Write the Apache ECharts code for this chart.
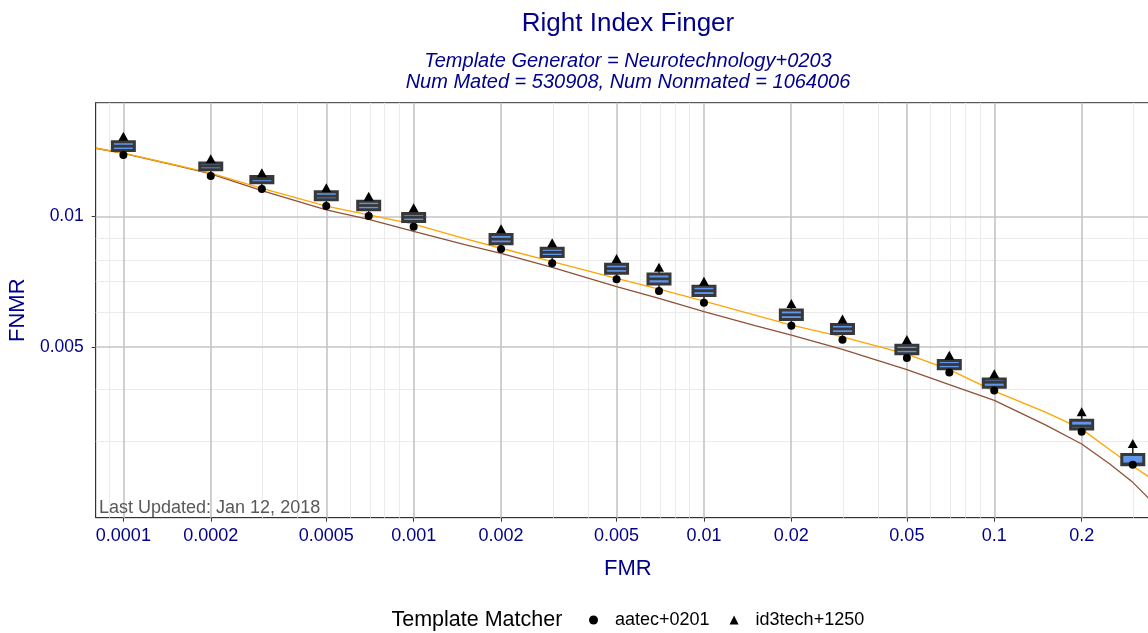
<!DOCTYPE html>
<html>
<head>
<meta charset="utf-8">
<script src="https://cdn.jsdelivr.net/npm/echarts@6/dist/echarts.min.js"></script>
<style>
  html, body { margin: 0; padding: 0; background: #fff; }
  #detChart { width: 1148px; height: 633px; }
</style>
</head>
<body>
<div id="detChart"></div>
<script>
// operating points (FMR) where the matchers are compared
const fmrPoints = [0.0001, 0.0002, 0.0003, 0.0005, 0.0007, 0.001, 0.002, 0.003, 0.005, 0.007,
                   0.01, 0.02, 0.03, 0.05, 0.07, 0.1, 0.2, 0.3];
const aatecFnmr = [0.01388, 0.01241, 0.01158, 0.01058, 0.01003, 0.00948, 0.00842, 0.00780, 0.00716, 0.00673,
                   0.00632, 0.00559, 0.00519, 0.00471, 0.00436, 0.00396, 0.00318, 0.00267];
const id3techFnmr = [0.01535, 0.01360, 0.01263, 0.01166, 0.01115, 0.01048, 0.00937, 0.00870, 0.00800, 0.00764,
                     0.00709, 0.00630, 0.00580, 0.00520, 0.00478, 0.00433, 0.00354, 0.00299];
// box of all matchers at each point
const boxUpper = [0.01489, 0.01331, 0.01238, 0.01141, 0.01085, 0.01017, 0.00909, 0.00845, 0.00776, 0.00737,
                  0.00690, 0.00608, 0.00563, 0.00504, 0.00465, 0.00421, 0.00338, 0.00282];
const boxMedian = [0.01455, 0.01309, 0.01223, 0.01115, 0.01061, 0.00997, 0.00887, 0.00827, 0.00758, 0.00718,
                   0.00674, 0.00593, 0.00550, 0.00493, 0.00455, 0.00414, 0.00328, 0.00268];
const boxLower = [0.01422, 0.01283, 0.01197, 0.01094, 0.01037, 0.00974, 0.00865, 0.00809, 0.00740, 0.00699,
                  0.00657, 0.00578, 0.00537, 0.00482, 0.00445, 0.00403, 0.00323, 0.00267];

// DET curves
const curveFmr = [0.0000804, 0.0001, 0.00015, 0.0002, 0.0003, 0.0005, 0.0007, 0.001, 0.0015, 0.002,
                  0.003, 0.005, 0.007, 0.01, 0.015, 0.02, 0.03, 0.05, 0.07, 0.1,
                  0.15, 0.2, 0.25, 0.3, 0.35, 0.372];
const orangeFnmr = [0.01439, 0.01403, 0.01318, 0.01261, 0.01163, 0.01058, 0.01009, 0.00961, 0.00889, 0.00845,
                    0.00787, 0.00720, 0.00680, 0.00638, 0.00592, 0.00561, 0.00527, 0.00481, 0.00443, 0.00395,
                    0.00353, 0.00323, 0.00289, 0.00265, 0.00247, 0.00240];
const brownFnmr = [0.01439, 0.01400, 0.01316, 0.01255, 0.01148, 0.01036, 0.00985, 0.00924, 0.00862, 0.00822,
                   0.00763, 0.00689, 0.00647, 0.00603, 0.00560, 0.00532, 0.00493, 0.00443, 0.00409, 0.00376,
                   0.00330, 0.00298, 0.00268, 0.00243, 0.00219, 0.00212];

// axes
const xMajor = [0.0001, 0.0002, 0.0005, 0.001, 0.002, 0.005, 0.01, 0.02, 0.05, 0.1, 0.2];
const xLabels = ['0.0001', '0.0002', '0.0005', '0.001', '0.002', '0.005', '0.01', '0.02', '0.05', '0.1', '0.2'];
const xMinor = [0.00009, 0.0003, 0.0004, 0.0006, 0.0007, 0.0008, 0.0009, 0.003, 0.004, 0.006, 0.007, 0.008, 0.009,
                0.03, 0.04, 0.06, 0.07, 0.08, 0.09, 0.3];
const yMajor = [0.005, 0.01];
const yLabels = ['0.005', '0.01'];
const yMinor = [0.003, 0.004, 0.006, 0.007, 0.008, 0.009];
const xRange = [0.0000803, 0.3723];
const yRange = [0.002013, 0.01834];

const lg = Math.log10;
const navy = '#00008B';

function labelFor(v, majors, labels) {
    for (let i = 0; i < majors.length; i++) {
        if (Math.abs(lg(majors[i]) - v) < 1e-6) return labels[i];
    }
    return '';
}

const minorStyle = {color: '#ebebeb', width: 1, type: 'solid'};
const majorStyle = {color: '#c4c4c4', width: 1.6, type: 'solid'};
const gridLines = [];
xMinor.forEach(v => gridLines.push({xAxis: lg(v), lineStyle: minorStyle}));
yMinor.forEach(v => gridLines.push({yAxis: lg(v), lineStyle: minorStyle}));
xMajor.forEach(v => gridLines.push({xAxis: lg(v), lineStyle: majorStyle}));
yMajor.forEach(v => gridLines.push({yAxis: lg(v), lineStyle: majorStyle}));

const boxData = fmrPoints.map((f, i) => [lg(f), lg(boxLower[i]), lg(boxMedian[i]), lg(boxUpper[i]),
                                         lg(aatecFnmr[i]), lg(id3techFnmr[i])]);

const myChart = echarts.init(document.getElementById('detChart'));
const option = {
    animation: false,
    textStyle: {fontFamily: 'Liberation Sans, Arial, sans-serif'},
    title: [
        {
            text: 'Right Index Finger', left: 628, top: 10.6, textAlign: 'center', padding: 0,
            textStyle: {fontSize: 26, fontWeight: 'normal', color: navy, lineHeight: 26}
        },
        {
            text: 'Template Generator = Neurotechnology+0203\nNum Mated = 530908, Num Nonmated = 1064006',
            left: 628, top: 50.5, textAlign: 'center', padding: 0,
            textStyle: {fontSize: 20, fontWeight: 'normal', fontStyle: 'italic', color: navy, lineHeight: 21}
        },
        {
            text: 'Last Updated: Jan 12, 2018', left: 99, top: 499.5, padding: 0,
            textStyle: {fontSize: 18, fontWeight: 'normal', color: '#595959', lineHeight: 18}
        },
        {
            text: 'Template Matcher', left: 391.5, top: 609.5, padding: 0,
            textStyle: {fontSize: 21.5, fontWeight: 'normal', color: '#000', lineHeight: 21}
        }
    ],
    legend: {
        left: 589, top: 610, padding: 0,
        itemWidth: 9, itemHeight: 9, itemGap: 20,
        textStyle: {fontSize: 18, color: '#000', lineHeight: 20, padding: [0, 0, 0, 12]},
        data: [
            {name: 'aatec+0201', icon: 'circle', itemStyle: {color: '#000', opacity: 1}},
            {name: 'id3tech+1250', icon: 'triangle', itemStyle: {color: '#000', opacity: 1}}
        ]
    },
    grid: {
        left: 95.7, top: 102.7, right: -12, bottom: 115.3,
        containLabel: false, outerBoundsMode: 'none',
        show: true, borderColor: '#333', borderWidth: 1
    },
    xAxis: {
        type: 'value',
        min: lg(xRange[0]), max: lg(xRange[1]),
        name: 'FMR', nameLocation: 'middle', nameGap: 40,
        nameTextStyle: {fontSize: 22, color: navy},
        axisLine: {show: true, lineStyle: {color: '#333', width: 1}},
        axisTick: {show: true, length: 4, inside: false, customValues: xMajor.map(lg), lineStyle: {color: '#333'}},
        axisLabel: {
            customValues: xMajor.map(lg), margin: 9, fontSize: 18, color: navy,
            formatter: v => labelFor(v, xMajor, xLabels)
        },
        splitLine: {show: false}
    },
    yAxis: {
        type: 'value',
        min: lg(yRange[0]), max: lg(yRange[1]),
        name: 'FNMR', nameLocation: 'middle', nameGap: 61,
        nameTextStyle: {fontSize: 22, color: navy},
        axisLine: {show: true, lineStyle: {color: '#333', width: 1}},
        axisTick: {show: true, length: 4, inside: false, customValues: yMajor.map(lg), lineStyle: {color: '#333'}},
        axisLabel: {
            customValues: yMajor.map(lg), margin: 12, fontSize: 17.5, color: navy,
            formatter: v => labelFor(v, yMajor, yLabels)
        },
        splitLine: {show: false}
    },
    series: [
        {
            name: 'grid',
            type: 'line',
            data: [],
            z: 1,
            silent: true,
            markLine: {
                z: 1, silent: true, symbol: ['none', 'none'], label: {show: false},
                emphasis: {disabled: true}, animation: false,
                data: gridLines
            }
        },
        {
            name: 'curveBrown', type: 'line', z: 2, showSymbol: false, silent: true,
            lineStyle: {color: '#8f5236', width: 1.3},
            data: curveFmr.map((f, i) => [lg(f), lg(brownFnmr[i])])
        },
        {
            name: 'curveOrange', type: 'line', z: 2, showSymbol: false, silent: true,
            lineStyle: {color: '#ffa500', width: 1.3},
            data: curveFmr.map((f, i) => [lg(f), lg(orangeFnmr[i])])
        },
        {
            name: 'boxes', type: 'custom', z: 3, silent: true,
            encode: {x: 0, y: [1, 2, 3, 4, 5]},
            data: boxData,
            renderItem: function (params, api) {
                const x = api.value(0);
                const pBot = api.coord([x, api.value(1)]);
                const pMed = api.coord([x, api.value(2)]);
                const pTop = api.coord([x, api.value(3)]);
                const pMin = api.coord([x, api.value(4)]);
                const pMax = api.coord([x, api.value(5)]);
                const hw = 11;
                const dark = '#383838';
                return {
                    type: 'group',
                    children: [
                        {type: 'line', shape: {x1: pTop[0], y1: pTop[1], x2: pMax[0], y2: pMax[1]},
                         style: {stroke: '#222', lineWidth: 1.5}},
                        {type: 'line', shape: {x1: pBot[0], y1: pBot[1], x2: pMin[0], y2: pMin[1]},
                         style: {stroke: '#222', lineWidth: 1.5}},
                        {type: 'rect', shape: {x: pTop[0] - hw, y: pTop[1], width: 2 * hw, height: pBot[1] - pTop[1]},
                         style: {fill: '#6096ee', stroke: dark, lineWidth: 3}},
                        {type: 'line', shape: {x1: pMed[0] - hw, y1: pMed[1], x2: pMed[0] + hw, y2: pMed[1]},
                         style: {stroke: dark, lineWidth: 2.8}}
                    ]
                };
            }
        },
        {
            name: 'aatec+0201', type: 'scatter', z: 4, silent: true,
            symbol: 'circle', symbolSize: 8,
            itemStyle: {color: '#000', opacity: 1},
            data: fmrPoints.map((f, i) => [lg(f), lg(aatecFnmr[i])])
        },
        {
            name: 'id3tech+1250', type: 'scatter', z: 4, silent: true,
            symbol: 'triangle', symbolSize: [10, 9],
            itemStyle: {color: '#000', opacity: 1},
            data: fmrPoints.map((f, i) => [lg(f), lg(id3techFnmr[i])])
        }
    ]
};
myChart.setOption(option);
</script>
</body>
</html>
